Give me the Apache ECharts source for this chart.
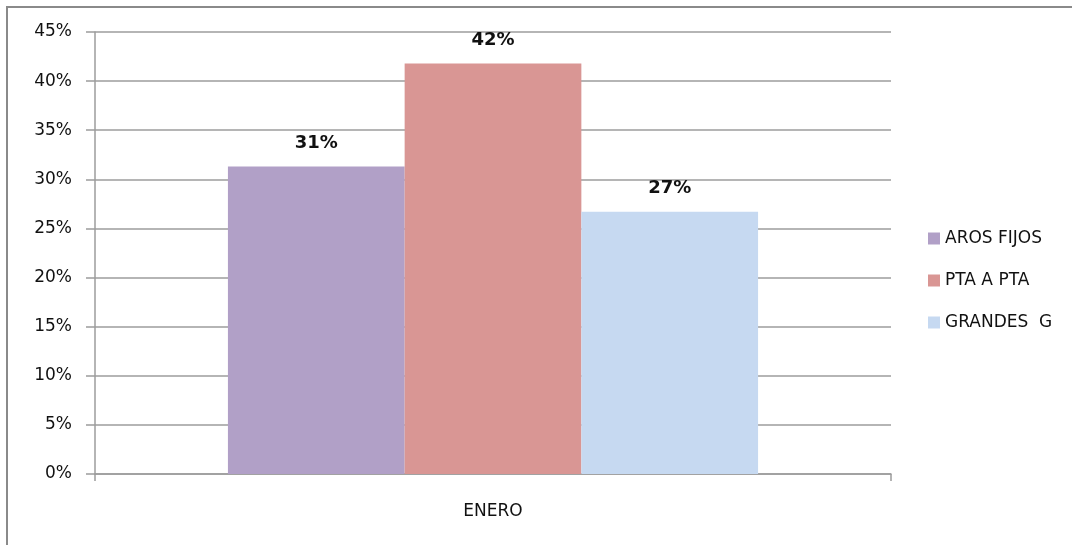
<!DOCTYPE html>
<html>
<head>
<meta charset="utf-8">
<script src="https://cdn.jsdelivr.net/npm/echarts@6/dist/echarts.min.js"></script>
<style>
  html, body { margin: 0; padding: 0; background: #fff; }
  #chart { width: 1072px; height: 545px; }
</style>
</head>
<body>
<div id="chart"></div>
<script>
// Share of each category for the month
const categories = ['ENERO'];
const seriesNames = ['AROS FIJOS', 'PTA A PTA', 'GRANDES  G'];
const arosFijos = [0.313];
const ptaAPta = [0.418];
const grandesG = [0.267];
const yTicks = [0, 0.05, 0.10, 0.15, 0.20, 0.25, 0.30, 0.35, 0.40, 0.45];

const colors = ['#B1A0C7', '#D99694', '#C6D9F1'];
const fontFamily = '"DejaVu Sans", Verdana, sans-serif';
const gridColor = '#9c9c9c';

const pct = v => Math.round(v * 100) + '%';

const chart = echarts.init(document.getElementById('chart'), null, { renderer: 'canvas' });

function barSeries(name, data, color) {
  return {
    name: name,
    type: 'bar',
    data: data,
    barGap: '0%',
    barCategoryGap: '33.4%',
    itemStyle: { color: color },
    label: {
      show: true,
      position: 'top',
      distance: 14,
      formatter: p => pct(p.value),
      fontFamily: fontFamily,
      fontWeight: 'bold',
      fontSize: 18,
      color: '#111'
    }
  };
}

chart.setOption({
  animation: false,
  textStyle: { fontFamily: fontFamily },
  graphic: [{
    type: 'rect',
    shape: { x: 7, y: 7, width: 1200, height: 700 },
    style: { fill: 'none', stroke: '#8a8a8a', lineWidth: 2 },
    silent: true
  }],
  grid: { left: 95, right: 181, top: 32, bottom: 71 },
  legend: {
    orient: 'vertical',
    left: 923,
    top: 225,
    itemWidth: 12,
    itemHeight: 12,
    itemGap: 25,
    icon: 'rect',
    data: seriesNames,
    textStyle: { fontFamily: fontFamily, fontSize: 17, color: '#111' }
  },
  xAxis: {
    type: 'category',
    data: categories,
    axisLine: { lineStyle: { color: gridColor, width: 1.5 } },
    axisTick: { show: true, length: 7, lineStyle: { color: gridColor, width: 1.5 } },
    axisLabel: { fontFamily: fontFamily, fontSize: 17, color: '#111', margin: 29 }
  },
  yAxis: {
    type: 'value',
    min: yTicks[0],
    max: yTicks[yTicks.length - 1],
    interval: 0.05,
    axisLine: { show: true, lineStyle: { color: gridColor, width: 1.5 } },
    axisTick: { show: true, length: 9, lineStyle: { color: gridColor, width: 1.5 } },
    axisLabel: {
      fontFamily: fontFamily, fontSize: 17, color: '#111', margin: 23,
      padding: [4, 0, 0, 0],
      formatter: v => pct(v)
    },
    splitLine: { show: true, lineStyle: { color: gridColor, width: 1.5 } }
  },
  series: [
    barSeries(seriesNames[0], arosFijos, colors[0]),
    barSeries(seriesNames[1], ptaAPta, colors[1]),
    barSeries(seriesNames[2], grandesG, colors[2])
  ]
});
</script>
</body>
</html>
